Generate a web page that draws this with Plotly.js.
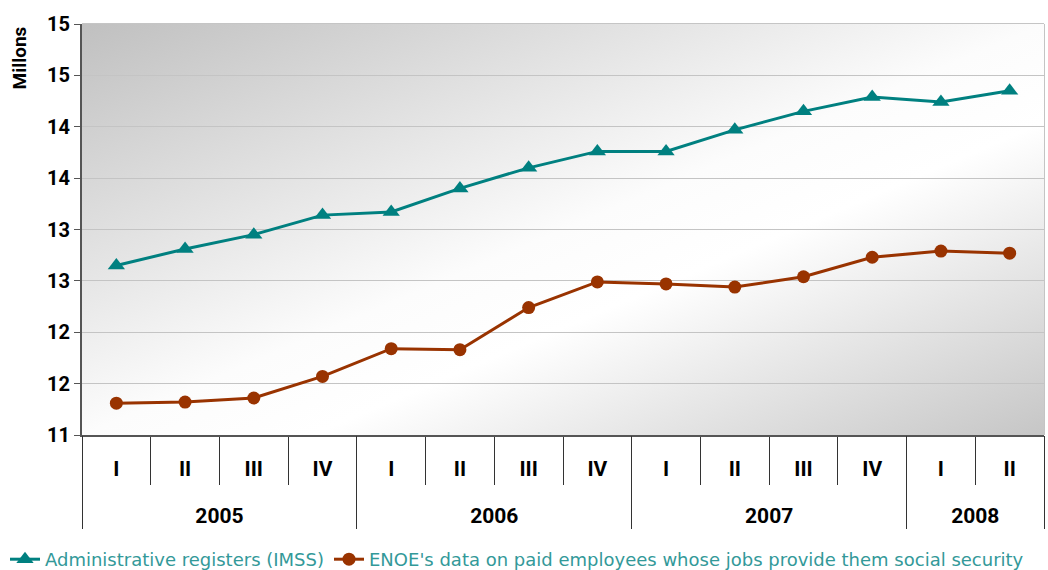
<!DOCTYPE html>
<html>
<head>
<meta charset="utf-8">
<script src="https://cdn.plot.ly/plotly-3.0.1.min.js"></script>
<style>
html,body{margin:0;padding:0;background:#fff;}
#chart{width:1048px;height:570px;}
</style>
</head>
<body>
<div id="chart"></div>
<script>
// Data (millions)
const years    = ["2005","2005","2005","2005","2006","2006","2006","2006","2007","2007","2007","2007","2008","2008"];
const quarters = ["I","II","III","IV","I","II","III","IV","I","II","III","IV","I","II"];
const imss = [12.65, 12.81, 12.95, 13.14, 13.17, 13.40, 13.60, 13.76, 13.76, 13.97, 14.15, 14.29, 14.24, 14.35];
const enoe = [11.31, 11.32, 11.36, 11.57, 11.84, 11.83, 12.24, 12.49, 12.47, 12.44, 12.54, 12.73, 12.79, 12.77];
const yTicks = [11, 11.5, 12, 12.5, 13, 13.5, 14, 14.5, 15];
const seriesNames = ["Administrative registers (IMSS)", "ENOE's data on paid employees whose jobs provide them social security"];

// derived axis helpers (category index positions)
const idx = quarters.map((q, i) => i);
const qBounds = idx.slice(0, -1).map(i => i + 0.5);
const yearList = [...new Set(years)];
const yearCenters = yearList.map(y => {
  const ii = idx.filter(i => years[i] === y);
  return (ii[0] + ii[ii.length - 1]) / 2;
});
const yearBounds = [-0.5].concat(yearList.map(y => {
  const ii = idx.filter(i => years[i] === y);
  return ii[ii.length - 1] + 0.5;
}));
const xRange = [-0.5, quarters.length - 0.5];

const W = 1048, H = 570, T = 24, B = 35, L = 82, R = 4;
const paperH = H - T - B, paperW = W - L - R;
const plotBottomPx = 435;
const yDomBottom = (H - B - plotBottomPx) / paperH;

const bgSvg = '<svg xmlns="http://www.w3.org/2000/svg" width="1000" height="1000" preserveAspectRatio="none">' +
  '<defs><linearGradient id="g" x1="0" y1="0" x2="1" y2="1">' +
  '<stop offset="0" stop-color="#c0c0c0"/><stop offset="0.5" stop-color="#fcfcfc"/>' +
  '<stop offset="0.62" stop-color="#ffffff"/><stop offset="1" stop-color="#c6c6c6"/>' +
  '</linearGradient></defs><rect width="1000" height="1000" fill="url(#g)"/></svg>';
const bgUri = 'data:image/svg+xml;base64,' + btoa(bgSvg);

const traces = [
  {
    x: idx, y: imss, name: seriesNames[0], type: 'scatter', mode: 'lines+markers',
    xaxis: 'x', yaxis: 'y',
    line: {color: '#008080', width: 3},
    marker: {symbol: 'triangle-up', size: 15, color: '#008080'}
  },
  {
    x: idx, y: enoe, name: seriesNames[1], type: 'scatter', mode: 'lines+markers',
    xaxis: 'x2', yaxis: 'y',
    line: {color: '#993300', width: 3},
    marker: {symbol: 'circle', size: 13, color: '#993300'}
  }
];

const tickFontX = {family: 'Roboto, Arial, sans-serif', size: 21, color: '#000', weight: 'bold'};

const layout = {
  width: W, height: H,
  margin: {l: L, r: R, t: T, b: B, autoexpand: false},
  paper_bgcolor: '#ffffff',
  plot_bgcolor: 'rgba(0,0,0,0)',
  font: {family: 'Roboto, Arial, sans-serif', color: '#000'},
  showlegend: true,
  legend: {
    orientation: 'h', x: -77 / paperW, xanchor: 'left', y: -6 / paperH, yanchor: 'top',
    font: {family: 'DejaVu Sans, sans-serif', size: 18, color: '#339999'},
    bgcolor: 'rgba(0,0,0,0)', tracegroupgap: 0
  },
  xaxis: {
    range: xRange, domain: [0, 1],
    tickmode: 'array', tickvals: idx, ticktext: quarters,
    ticks: '', ticklabelstandoff: 14,
    showline: true, linecolor: '#555555', linewidth: 2,
    showgrid: false, zeroline: false,
    minor: {tickmode: 'array', tickvals: qBounds, ticks: 'outside', ticklen: 48, tickcolor: '#333333', tickwidth: 1, showgrid: false},
    tickfont: tickFontX
  },
  xaxis2: {
    overlaying: 'x', anchor: 'free', position: yDomBottom, side: 'bottom',
    range: xRange,
    tickmode: 'array', tickvals: yearCenters, ticktext: yearList,
    ticks: '', ticklabelstandoff: 66,
    showline: false, showgrid: false, zeroline: false,
    minor: {tickmode: 'array', tickvals: yearBounds, ticks: 'outside', ticklen: 93, tickcolor: '#333333', tickwidth: 1, showgrid: false},
    tickfont: tickFontX
  },
  yaxis: {
    domain: [yDomBottom, 1],
    range: [11, 15],
    tickmode: 'array', tickvals: yTicks,
    ticktext: yTicks.map(v => v.toFixed(0)),
    showline: true, linecolor: '#555555', linewidth: 2,
    ticks: 'outside', ticklen: 6, tickcolor: '#555555',
    showgrid: true, gridcolor: '#c4c4c4', gridwidth: 1,
    zeroline: false,
    tickfont: {family: 'Roboto, Arial, sans-serif', size: 20, color: '#000', weight: 'bold'}
  },
  shapes: [
    {type: 'rect', xref: 'x domain', yref: 'y domain', x0: 0, x1: 1, y0: 0, y1: 1,
     line: {color: '#8a8a8a', width: 1}, fillcolor: 'rgba(0,0,0,0)', layer: 'below'}
  ],
  images: [
    {source: bgUri, xref: 'x domain', yref: 'y domain', x: 0, y: 1, sizex: 1, sizey: 1,
     sizing: 'stretch', layer: 'below', xanchor: 'left', yanchor: 'top'}
  ],
  annotations: [
    {text: 'Millons', xref: 'paper', yref: 'paper', x: -63 / paperW, y: (H - B - 25) / paperH,
     xanchor: 'center', yanchor: 'top', textangle: -90, showarrow: false,
     font: {family: 'Roboto, Arial, sans-serif', size: 19, color: '#000', weight: 'bold'}}
  ]
};

Plotly.newPlot('chart', traces, layout, {displayModeBar: false, staticPlot: true});
</script>
</body>
</html>
